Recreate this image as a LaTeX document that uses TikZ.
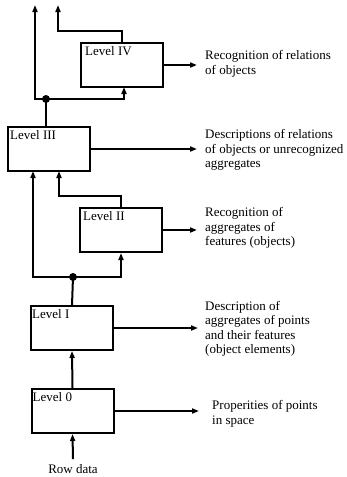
\documentclass[tikz,border=0pt]{standalone}
\usepackage{fontspec}
\setmainfont{Liberation Serif}
\usetikzlibrary{arrows.meta,calc}
\begin{document}
\begin{tikzpicture}[x=1pt,y=-1pt,
  every node/.style={font=\fontsize{13}{14.5}\selectfont},
  levelbox/.style={draw,line width=2pt,minimum width=82pt,minimum height=44pt,inner sep=0pt},
  levellabel/.style={anchor=north west,inner sep=0pt},
  outtext/.style={anchor=west,align=left,inner sep=0pt},
  wire/.style={line width=2pt},
  arr/.style={wire,-{Triangle[length=7pt,width=5pt]}},
  dot/.style={circle,fill=black,inner sep=0pt,minimum size=8pt}]
\useasboundingbox (0,0) rectangle (346,477);

% processing levels
\node[levelbox] (L4) at (122,65) {};
\node[levelbox] (L3) at (49,149) {};
\node[levelbox] (L2) at (121,230) {};
\node[levelbox] (L1) at (72,328) {};
\node[levelbox] (L0) at (72.5,411) {};

\node[levellabel] (n4) at ($(L4.north west)+(5,4)$) {Level IV};
\node[levellabel] (n3) at ($(L3.north west)+(3,4)$) {Level III};
\node[levellabel] (n2) at ($(L2.north west)+(4,4)$) {Level II};
\node[levellabel] (n1) at ($(L1.north west)+(2,4)$) {Level I};
\node[levellabel] (n0) at ($(L0.north west)+(2,4)$) {Level 0};

% outputs of each level
\node[outtext] (t4) at (205,64) {Recognition of relations\\of objects};
\node[outtext] (t3) at (205,150) {Descriptions of relations\\of objects or unrecognized\\aggregates};
\node[outtext] (t2) at (205,228) {Recognition of\\aggregates of\\features (objects)};
\node[outtext] (t1) at (205,329) {Description of\\aggregates of points\\and their features\\(object elements)};
\node[outtext] (t0) at (212,414) {Properities of points\\in space};

\draw[arr,shorten >=8pt] (L4.east) -- (L4.east -| t4.west);
\draw[arr,shorten >=8pt] (L3.east) -- (L3.east -| t3.west);
\draw[arr,shorten >=8pt] (L2.east) -- (L2.east -| t2.west);
\draw[arr,shorten >=7pt] (L1.east) -- (L1.east -| t1.west);
\draw[arr,shorten >=13pt] (L0.east) -- (L0.east -| t0.west);

% input
\node[inner sep=0pt] (row) at (73,469) {Row data};
\draw[arr] ($(row.north)+(0,-5)$) -- (L0.south);
\draw[arr] (L0.north) -- (L1.south);

% branching above Level I
\coordinate (J1) at (73,277);
\coordinate (a3) at (33,171);
\coordinate (b3) at (59,171);
\draw[wire] (L1.north) -- (J1);
\draw[arr] (J1) -| (a3);
\draw[arr] (J1) -| (L2.south);
\draw[arr] (L2.north) -- ++(0,-11) -| (b3);
\node[dot] at (J1) {};

% branching above Level III
\coordinate (J3) at (46,99);
\coordinate (top1) at (35,5);
\coordinate (top2) at (58,5);
\coordinate (b4) at (124,87);
\draw[wire] (L3.north -| J3) -- (J3);
\draw[arr] (J3) -| (top1);
\draw[arr] (J3) -| (b4);
\draw[arr] (L4.north) -- ++(0,-11) -| (top2);
\node[dot] at (J3) {};
\end{tikzpicture}
\end{document}
